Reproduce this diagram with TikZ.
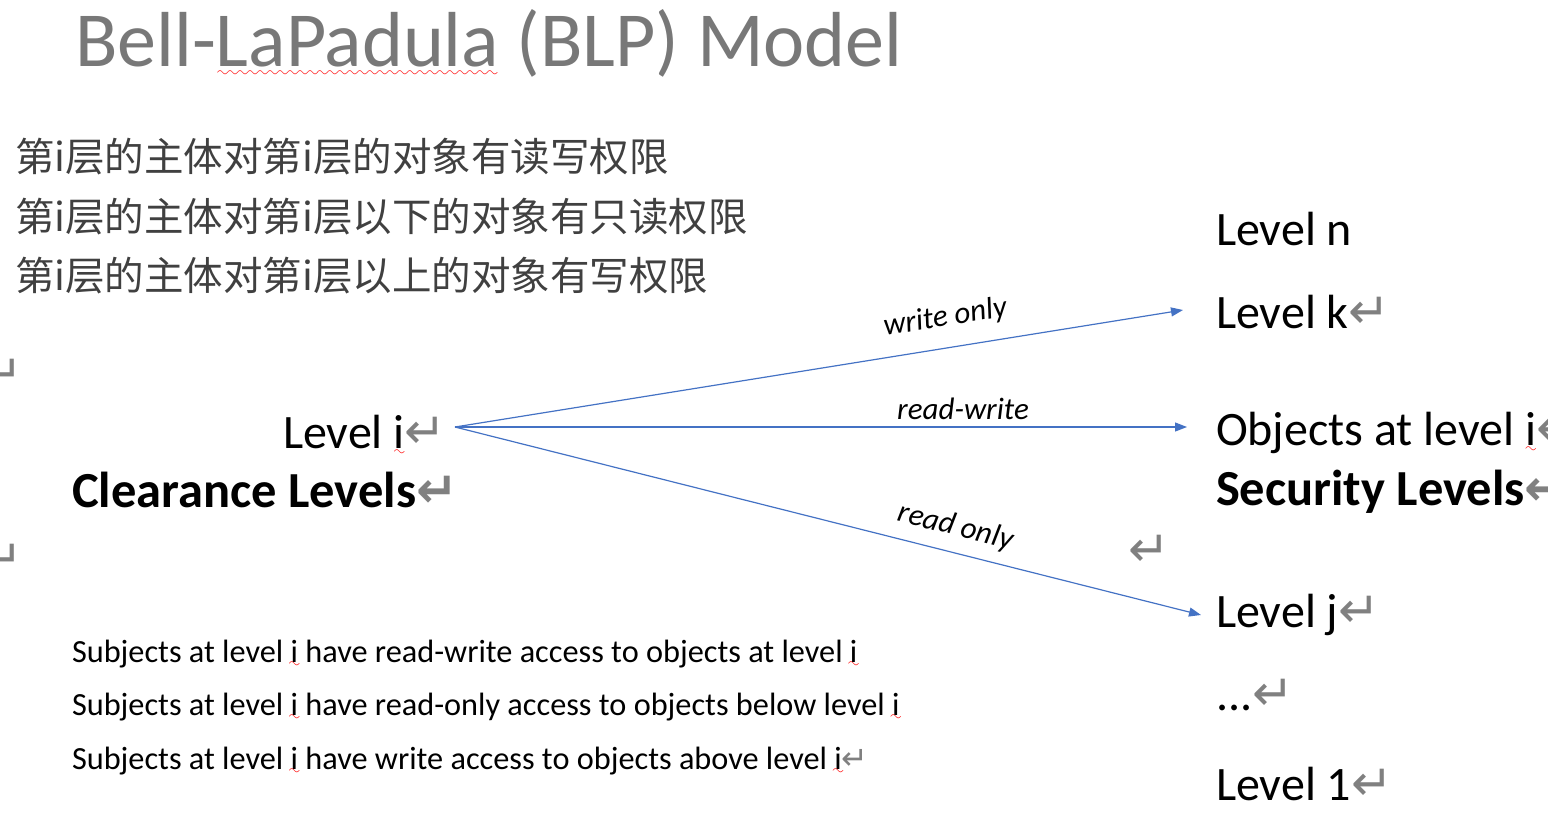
\documentclass[tikz,border=0pt]{standalone}
\usepackage{fontspec}
\usepackage{xcolor}
\usetikzlibrary{arrows.meta,positioning}
\setmainfont{Carlito}
\newfontfamily\cjk{Noto Sans CJK SC}
\newfontfamily\symfnt{DejaVu Sans}
\definecolor{ArrowBlue}{RGB}{68,114,196}
\definecolor{MarkGray}{RGB}{128,128,128}
\definecolor{TitleGray}{RGB}{120,120,120}
\definecolor{CnGray}{RGB}{64,64,64}
\font\wavefnt=lasy10 at 15pt
% paragraph mark and spell-check wave
\newcommand\pmk[1][50]{{\symfnt\fontsize{#1}{#1}\selectfont\color{MarkGray}\symbol{"21B5}}}
\newcommand\spell[2][7]{\setbox0=\hbox{#2}%
  \dimen0=\wd0 \ifdim\dimen0<15pt \dimen0=15pt\fi
  \hbox to\wd0{\hss\hbox to 0pt{\hss\color{red}\lower#1pt\hbox to\dimen0{\cleaders\hbox{\wavefnt\char58}\hfil}\hss}\hss}%
  \kern-\wd0 \box0\relax}

\begin{document}
\begin{tikzpicture}[x=1pt,y=-1pt,
  every node/.style={inner sep=0pt,outer sep=0pt,anchor=base west},
  big/.style={font=\fontsize{48}{58}\selectfont},
  bigb/.style={font=\fontsize{50.5}{60}\selectfont\bfseries},
  cn/.style={anchor=west,font=\cjk\fontsize{39.5}{47}\selectfont,text=CnGray},
  sub/.style={font=\fontsize{32.3}{38}\selectfont},
  lbl/.style={font=\fontsize{31}{38}\selectfont\itshape,anchor=center},
  arr/.style={-{Triangle[length=12pt,width=9pt]},line width=1.2pt,draw=ArrowBlue}]
  \useasboundingbox (0,0) rectangle (1548,833);
  \node (title) [font=\fontsize{78}{90}\selectfont,text=TitleGray] at (75,66)
    {Bell-\spell[10]{LaPadula} (BLP) Model};
  \node (cn1) [cn] at (15,157) {第i层的主体对第i层的对象有读写权限};
  \node (cn2) [cn] at (15,217) {第i层的主体对第i层以下的对象有只读权限};
  \node (cn3) [cn] at (15,276) {第i层的主体对第i层以上的对象有写权限};
  \node (pma) at (-18,390) {\pmk};
  \node (pmb) at (-18,575) {\pmk};
  % subjects
  \node (lvi) [big] at (283,448) {Level \spell{i}\pmk};
  \node (clear) [bigb] at (72,507) {Clearance Levels\pmk};
  % objects
  \node (lvn) [big] at (1216,245) {Level n};
  \node (lvk) [big] at (1216,328) {Level k\pmk};
  \node (obj) [big] at (1216,445) {Objects at level \spell{i}\pmk};
  \node (sec) [bigb] at (1216,505) {Security Levels\pmk};
  \node (pmc) at (1128,566) {\pmk};
  \node (lvj) [big] at (1216,627) {Level j\pmk};
  \node (dots) [big] at (1216,710) {...\pmk};
  \node (lv1) [big] at (1216,800) {Level 1\pmk};
  \coordinate (src) at (455,427);
  \coordinate (tk) at (1183,310);
  \coordinate (to) at (1187,427);
  \coordinate (tj) at (1201,615);
  \draw[arr] (src) -- (tk) node[lbl,sloped,pos=.68,above=17pt] {write only};
  \draw[arr] (src) -- (to) node[lbl,pos=.694,above=7pt] {read-write};
  \draw[arr] (src) -- (tj) node[lbl,sloped,pos=.663,above=12pt] {read only};
  % rules
  \node (r1) [sub] at (72,662)
    {Subjects at level \spell[5]{i} have read-write access to objects at level \spell[5]{i}};
  \node (r2) [sub] at (72,715)
    {Subjects at level \spell[5]{i} have read-only access to objects below level \spell[5]{i}};
  \node (r3) [sub] at (72,769)
    {Subjects at level \spell[5]{i} have write access to objects above level \spell[5]{i}\pmk[32]};
\end{tikzpicture}
\end{document}
